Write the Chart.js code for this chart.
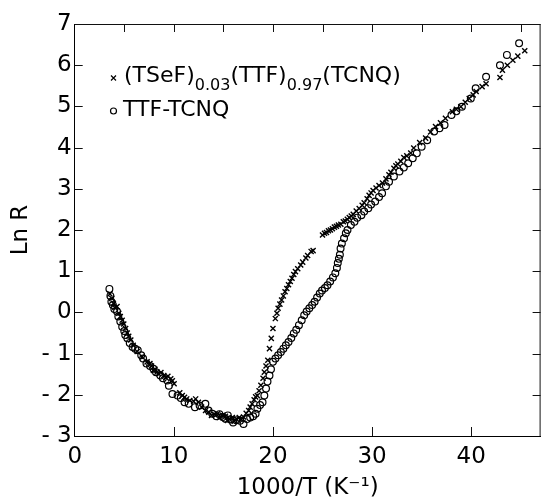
<!DOCTYPE html>
<html>
<head>
<meta charset="utf-8">
<script src="https://cdn.jsdelivr.net/npm/chart.js@4"></script>
<style>
  html, body { margin: 0; padding: 0; background: #fff; }
  #wrap { width: 546px; height: 500px; }
</style>
</head>
<body>
<div id="wrap"><canvas id="chart" width="546" height="500"></canvas></div>
<script>
// (TSeF)0.03(TTF)0.97(TCNQ) - crosses
const tsefX = [3.55, 3.74, 3.9, 4.05, 4.27, 4.45, 4.6, 4.79, 4.95, 5.14, 5.3, 5.45, 5.66, 5.9, 6.3, 6.8,
  7.3, 7.59, 7.75, 7.94, 8.1, 8.3, 8.46, 8.7, 8.99, 9.2, 9.4, 9.69, 9.85, 10.03, 10.6, 10.85, 11.08, 11.3,
  11.61, 12.0, 12.2, 12.48, 12.8, 13.2, 13.53, 13.8, 14.1, 14.41, 14.6, 14.93, 15.2, 15.4, 15.63, 15.9,
  16.1, 16.33, 16.6, 16.8, 17.03, 17.3, 17.55, 17.7, 17.9, 18.1, 18.25, 18.43, 18.6, 18.78, 19.0, 19.13,
  19.3, 19.48, 19.65, 19.83, 20.0, 20.24, 20.4, 20.52, 20.7, 20.87, 21.05, 21.22, 21.4, 21.57, 21.75,
  21.92, 22.1, 22.27, 22.5, 22.8, 23.0, 23.32, 23.5, 23.85, 24.05,
  25.0, 25.2, 25.4, 25.6, 25.8, 26.0, 26.2, 26.4, 26.6, 26.85, 27.1, 27.3, 27.5, 27.7, 27.9, 28.1, 28.4,
  28.7, 29.0, 29.2, 29.5, 29.7, 29.9, 30.1, 30.4, 30.7, 31.05, 31.4, 31.7, 31.9, 32.2, 32.4, 32.6, 32.9,
  33.2, 33.5, 33.9, 34.2, 34.8, 35.4, 35.9, 36.4, 36.9, 37.4, 38.1, 38.5, 38.95, 39.4, 39.8, 40.2, 40.5,
  41.1, 41.5, 42.9, 43.15, 43.65, 44.2, 44.7, 45.4];
const tsefY = [0.45, 0.34, 0.22, 0.12, 0.14, -0.02, -0.10, -0.19, -0.28, -0.39, -0.50, -0.58, -0.67, -0.80, -0.95, -1.08,
  -1.20, -1.24, -1.30, -1.41, -1.38, -1.45, -1.49, -1.46, -1.53, -1.58, -1.55, -1.61, -1.66, -1.73, -1.95, -2.02, -2.06, -2.10,
  -2.14, -2.16, -2.10, -2.18, -2.30, -2.38, -2.42, -2.50, -2.48, -2.46, -2.55, -2.50, -2.52, -2.62, -2.59, -2.55,
  -2.64, -2.59, -2.55, -2.60, -2.54, -2.45, -2.38, -2.30, -2.22, -2.12, -2.05, -2.02, -1.90, -1.77, -1.60, -1.45,
  -1.30, -1.16, -0.88, -0.63, -0.39, -0.15, -0.02, 0.10, 0.20, 0.30, 0.40, 0.50, 0.58, 0.67, 0.75,
  0.83, 0.92, 0.99, 1.06, 1.15, 1.22, 1.32, 1.38, 1.48, 1.50,
  1.88, 1.92, 1.94, 1.98, 2.00, 2.03, 2.07, 2.09, 2.12, 2.14, 2.20, 2.22, 2.26, 2.30, 2.34, 2.38, 2.46,
  2.52, 2.60, 2.66, 2.76, 2.84, 2.90, 2.96, 3.02, 3.08, 3.14, 3.24, 3.34, 3.40, 3.50, 3.56, 3.60, 3.67,
  3.76, 3.80, 3.87, 3.99, 4.12, 4.23, 4.38, 4.51, 4.60, 4.71, 4.87, 4.93, 4.99, 5.10, 5.19, 5.28, 5.36,
  5.48, 5.55, 5.70, 5.88, 6.00, 6.12, 6.22, 6.35];

// TTF-TCNQ - open circles
const ttfX = [3.5, 3.6, 3.7, 3.85, 4.0, 4.27, 4.4, 4.6, 4.79, 5.0, 5.1, 5.31, 5.55, 5.84, 6.1, 6.36, 6.71, 6.9,
  7.24, 7.6, 7.94, 8.2, 8.64, 8.9, 9.34, 9.5, 9.86, 10.38, 10.7, 11.08, 11.5, 12.13, 12.6, 13.18, 13.5, 13.88,
  14.3, 14.6, 14.93, 15.2, 15.45, 15.7, 15.98, 16.3, 16.68, 17.03, 17.38, 17.7, 18.0, 18.25, 18.43, 18.7,
  18.95, 19.13, 19.3, 19.45, 19.65, 19.8, 20.0, 20.25, 20.52, 20.8, 21.05, 21.3, 21.57, 21.85, 22.1, 22.35,
  22.62, 22.9, 23.15, 23.4, 23.67, 23.95, 24.2, 24.45, 24.72, 24.95, 25.24, 25.5, 25.77, 26.05, 26.29, 26.45,
  26.54, 26.65, 26.75, 26.82, 26.95, 27.17, 27.35, 27.52, 27.86, 28.22, 28.5, 28.92, 29.2, 29.62, 29.9, 30.31,
  30.7, 31.01, 31.4, 31.71, 32.2, 32.76, 33.2, 33.64, 34.1, 34.51, 35.0, 35.56, 36.26, 36.8, 37.31, 38.01,
  38.5, 39.06, 39.96, 40.45, 41.5, 42.9, 43.6, 44.83];
const ttfY = [0.57, 0.40, 0.26, 0.18, 0.08, 0.02, -0.10, -0.22, -0.35, -0.45, -0.55, -0.63, -0.74, -0.84, -0.88, -0.92, -1.04, -1.12,
  -1.24, -1.30, -1.37, -1.45, -1.53, -1.60, -1.65, -1.78, -1.98, -2.02, -2.08, -2.18, -2.22, -2.30, -2.26, -2.22, -2.38, -2.46,
  -2.52, -2.47, -2.54, -2.58, -2.50, -2.60, -2.67, -2.62, -2.63, -2.71, -2.59, -2.55, -2.52, -2.46, -2.34, -2.25,
  -2.18, -2.02, -1.85, -1.68, -1.53, -1.38, -1.20, -1.12, -1.04, -0.96, -0.88, -0.80, -0.72, -0.62, -0.51, -0.42,
  -0.31, -0.19, -0.07, 0.02, 0.10, 0.18, 0.26, 0.36, 0.46, 0.53, 0.59, 0.66, 0.75, 0.85, 0.95, 1.08,
  1.20, 1.30, 1.40, 1.55, 1.67, 1.80, 1.92, 2.00, 2.12, 2.20, 2.30, 2.36, 2.45, 2.53, 2.62, 2.69,
  2.80, 2.89, 3.06, 3.17, 3.30, 3.42, 3.52, 3.62, 3.74, 3.86, 4.02, 4.18, 4.39, 4.47, 4.55, 4.79,
  4.88, 4.99, 5.19, 5.44, 5.72, 6.00, 6.25, 6.53];

// axis ranges and tick values
const xRange = [0, 47];
const yRange = [-3, 7];
const xTicksBottom = [10, 20, 30, 40];
const xTicksTop = [5, 10, 15, 20, 25, 30, 35, 40, 45];
const yTicksSides = [-2, -1, 0, 1, 2, 3, 4, 5, 6];

const FONT = "'DejaVu Sans', sans-serif";

function toPoints(xs, ys) {
  return xs.map((x, i) => ({ x: x, y: ys[i] }));
}

// box around the plot with inward tick marks
const framePlugin = {
  id: 'frame',
  afterDraw(chart) {
    const { ctx, chartArea: a, scales } = chart;
    const sx = scales.x, sy = scales.y;
    ctx.save();
    ctx.strokeStyle = '#111';
    ctx.lineWidth = 1;
    ctx.beginPath();
    ctx.moveTo(a.left, a.top + 0.5);
    ctx.lineTo(a.right, a.top + 0.5);
    ctx.moveTo(a.right - 0.5, a.top);
    ctx.lineTo(a.right - 0.5, a.bottom);
    xTicksBottom.forEach(v => {
      const px = Math.round(sx.getPixelForValue(v)) + 0.5;
      ctx.moveTo(px, a.bottom);
      ctx.lineTo(px, a.bottom - 9);
    });
    xTicksTop.forEach(v => {
      const px = Math.round(sx.getPixelForValue(v)) + 0.5;
      ctx.moveTo(px, a.top);
      ctx.lineTo(px, a.top + 8);
    });
    yTicksSides.forEach(v => {
      const py = Math.round(sy.getPixelForValue(v)) + 0.5;
      ctx.moveTo(a.left, py);
      ctx.lineTo(a.left + 8, py);
      ctx.moveTo(a.right, py);
      ctx.lineTo(a.right - 8, py);
    });
    ctx.stroke();
    ctx.restore();
  }
};

// legend drawn by hand because of the subscripts
const legendPlugin = {
  id: 'subLegend',
  afterDraw(chart) {
    const ctx = chart.ctx;
    const main = '22px ' + FONT;
    const sub = '16px ' + FONT;
    ctx.save();
    ctx.fillStyle = '#000';
    ctx.strokeStyle = '#000';
    ctx.lineWidth = 1.2;
    ctx.textBaseline = 'middle';
    ctx.textAlign = 'left';

    ctx.beginPath();
    ctx.moveTo(111, 75.5);
    ctx.lineTo(116, 80.5);
    ctx.moveTo(116, 75.5);
    ctx.lineTo(111, 80.5);
    ctx.stroke();

    const parts = [
      ['(TSeF)', false], ['0.03', true], ['(TTF)', false], ['0.97', true], ['(TCNQ)', false]
    ];
    let x = 124;
    parts.forEach(p => {
      ctx.font = p[1] ? sub : main;
      ctx.fillText(p[0], x, p[1] ? 86 : 76);
      x += ctx.measureText(p[0]).width;
    });

    ctx.beginPath();
    ctx.arc(113.5, 111, 3, 0, Math.PI * 2);
    ctx.stroke();
    ctx.font = main;
    ctx.fillText('TTF-TCNQ', 123, 110);
    ctx.restore();
  }
};

const ctx = document.getElementById('chart').getContext('2d');
new Chart(ctx, {
  type: 'scatter',
  data: {
    datasets: [
      {
        label: '(TSeF)0.03(TTF)0.97(TCNQ)',
        data: toPoints(tsefX, tsefY),
        pointStyle: 'crossRot',
        pointRadius: 3.6,
        borderColor: '#000',
        borderWidth: 1.4,
        backgroundColor: '#000'
      },
      {
        label: 'TTF-TCNQ',
        data: toPoints(ttfX, ttfY),
        pointStyle: 'circle',
        pointRadius: 3.4,
        borderColor: '#000',
        borderWidth: 1.2,
        backgroundColor: 'rgba(0,0,0,0)'
      }
    ]
  },
  options: {
    responsive: false,
    animation: false,
    events: [],
    layout: { padding: { left: 9.5, top: 24, right: 3.4, bottom: 0 } },
    plugins: {
      legend: { display: false },
      tooltip: { enabled: false }
    },
    scales: {
      x: {
        type: 'linear',
        min: xRange[0],
        max: xRange[1],
        afterFit: s => { s.height = 64; },
        grid: { display: false, drawTicks: false },
        border: { display: true, color: '#000', width: 1 },
        ticks: {
          stepSize: 10,
          includeBounds: false,
          maxRotation: 0,
          padding: 7,
          color: '#000',
          font: { family: FONT, size: 23 }
        },
        title: {
          display: true,
          text: '1000/T (K\u207B\u00B9)',
          color: '#000',
          font: { family: FONT, size: 23, lineHeight: 1 },
          padding: 0
        }
      },
      y: {
        type: 'linear',
        min: yRange[0],
        max: yRange[1],
        afterFit: s => { s.width = 65.2; },
        grid: { display: false, drawTicks: false },
        border: { display: true, color: '#000', width: 1 },
        ticks: {
          stepSize: 1,
          padding: 3,
          color: '#000',
          font: { family: FONT, size: 23 },
          callback: v => v < 0 ? '- ' + Math.abs(v) : String(v)
        },
        title: {
          display: true,
          text: 'Ln R',
          color: '#000',
          font: { family: FONT, size: 23, lineHeight: 1 },
          padding: 0
        }
      }
    }
  },
  plugins: [framePlugin, legendPlugin]
});
</script>
</body>
</html>
